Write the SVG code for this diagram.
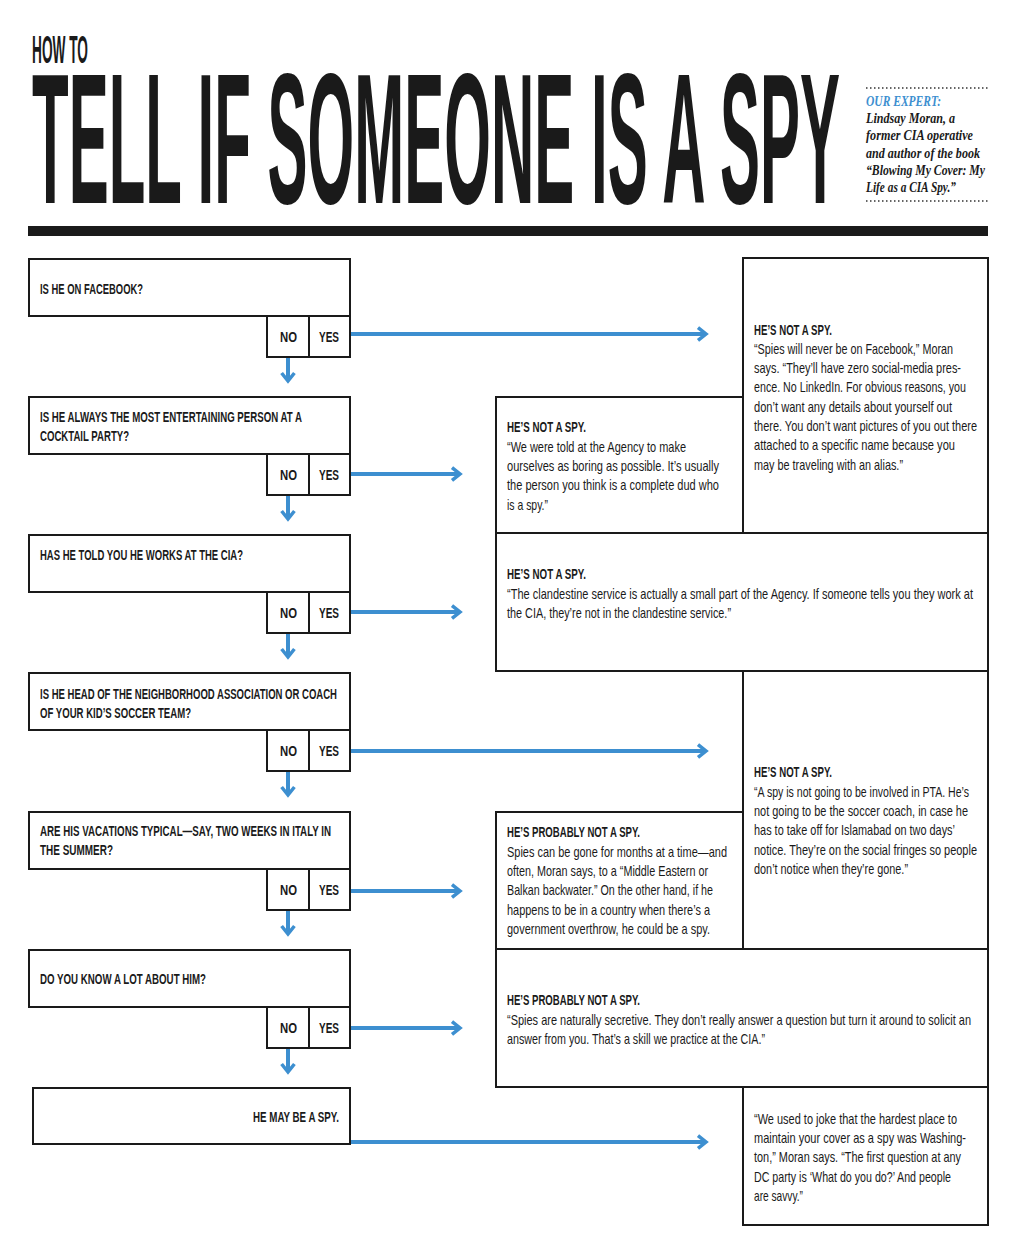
<svg xmlns="http://www.w3.org/2000/svg" width="1024" height="1254" viewBox="0 0 1024 1254">
<defs>
<style>
.bx{fill:#fff;stroke:#1a1a1a;stroke-width:2}
.q{font-family:"Liberation Sans",Arial,sans-serif;font-weight:bold;font-size:14px;fill:#1a1a1a}
.b{font-family:"Liberation Sans",Arial,sans-serif;font-size:15px;fill:#1a1a1a}
.h{font-weight:bold}
.e{font-family:"Liberation Serif","Times New Roman",serif;font-style:italic;font-weight:bold;font-size:14px;fill:#1a1a1a}
.ln{stroke:#3d8fd0;stroke-width:4;fill:none}
.dot{stroke:#333;stroke-width:1.5;stroke-dasharray:1.5 2.5}
</style>
<marker id="ar" viewBox="0 0 10 10" refX="6" refY="5" markerWidth="4" markerHeight="4" orient="auto" markerUnits="strokeWidth">
<path d="M1,1 L6,5 L1,9" fill="none" stroke="#3d8fd0" stroke-width="2.2"/>
</marker>
</defs>
<rect width="1024" height="1254" fill="#fff"/>
<g id="header">
<text x="32" y="63" font-family="Liberation Sans,Arial,sans-serif" font-weight="bold" font-size="38" fill="#1a1a1a" textLength="56" lengthAdjust="spacingAndGlyphs">HOW TO</text>
<text x="32" y="203" font-family="Liberation Sans,Arial,sans-serif" font-weight="bold" font-size="186" fill="#1a1a1a" textLength="808" lengthAdjust="spacingAndGlyphs">TELL IF SOMEONE IS A SPY</text>
<rect x="28" y="226" width="960" height="10" fill="#1a1a1a"/>
</g>
<g id="expert">
<line class="dot" x1="866" y1="88" x2="988" y2="88"/>
<text class="e" x="866" y="106" fill="#3d8fd0" style="fill:#3d8fd0" textLength="75" lengthAdjust="spacingAndGlyphs">OUR EXPERT:</text>
<text class="e" x="866" y="123" textLength="89" lengthAdjust="spacingAndGlyphs">Lindsay Moran, a</text>
<text class="e" x="866" y="140" textLength="107" lengthAdjust="spacingAndGlyphs">former CIA operative</text>
<text class="e" x="866" y="158" textLength="114" lengthAdjust="spacingAndGlyphs">and author of the book</text>
<text class="e" x="866" y="175" textLength="119" lengthAdjust="spacingAndGlyphs">“Blowing My Cover: My</text>
<text class="e" x="866" y="192" textLength="90" lengthAdjust="spacingAndGlyphs">Life as a CIA Spy.”</text>
<line class="dot" x1="866" y1="201" x2="988" y2="201"/>
</g>
<g id="connectors">
<line class="ln" x1="350" y1="334" x2="706" y2="334" marker-end="url(#ar)"/>
<line class="ln" x1="350" y1="474" x2="460" y2="474" marker-end="url(#ar)"/>
<line class="ln" x1="350" y1="612" x2="460" y2="612" marker-end="url(#ar)"/>
<line class="ln" x1="350" y1="751" x2="706" y2="751" marker-end="url(#ar)"/>
<line class="ln" x1="350" y1="891" x2="460" y2="891" marker-end="url(#ar)"/>
<line class="ln" x1="350" y1="1028" x2="460" y2="1028" marker-end="url(#ar)"/>
<line class="ln" x1="350" y1="1142" x2="706" y2="1142" marker-end="url(#ar)"/>
<line class="ln" x1="288" y1="357" x2="288" y2="381" marker-end="url(#ar)"/>
<line class="ln" x1="288" y1="495" x2="288" y2="519" marker-end="url(#ar)"/>
<line class="ln" x1="288" y1="633" x2="288" y2="657" marker-end="url(#ar)"/>
<line class="ln" x1="288" y1="771" x2="288" y2="795" marker-end="url(#ar)"/>
<line class="ln" x1="288" y1="910" x2="288" y2="934" marker-end="url(#ar)"/>
<line class="ln" x1="288" y1="1048" x2="288" y2="1072" marker-end="url(#ar)"/>
</g>
<g id="q1">
<rect class="bx" x="29" y="259" width="321" height="57"/>
<text class="q" x="40" y="294" textLength="103" lengthAdjust="spacingAndGlyphs">IS HE ON FACEBOOK?</text>
<rect class="bx" x="267" y="316" width="42" height="41"/><rect class="bx" x="309" y="316" width="41" height="41"/>
<text class="q" x="280" y="342" textLength="17" lengthAdjust="spacingAndGlyphs">NO</text><text class="q" x="319" y="342" textLength="20" lengthAdjust="spacingAndGlyphs">YES</text>
</g>
<g id="q2">
<rect class="bx" x="29" y="397" width="321" height="57"/>
<text class="q" x="40" y="422" textLength="262" lengthAdjust="spacingAndGlyphs">IS HE ALWAYS THE MOST ENTERTAINING PERSON AT A</text>
<text class="q" x="40" y="441" textLength="89" lengthAdjust="spacingAndGlyphs">COCKTAIL PARTY?</text>
<rect class="bx" x="267" y="454" width="42" height="41"/><rect class="bx" x="309" y="454" width="41" height="41"/>
<text class="q" x="280" y="480" textLength="17" lengthAdjust="spacingAndGlyphs">NO</text><text class="q" x="319" y="480" textLength="20" lengthAdjust="spacingAndGlyphs">YES</text>
</g>
<g id="q3">
<rect class="bx" x="29" y="535" width="321" height="57"/>
<text class="q" x="40" y="560" textLength="203" lengthAdjust="spacingAndGlyphs">HAS HE TOLD YOU HE WORKS AT THE CIA?</text>
<rect class="bx" x="267" y="592" width="42" height="41"/><rect class="bx" x="309" y="592" width="41" height="41"/>
<text class="q" x="280" y="618" textLength="17" lengthAdjust="spacingAndGlyphs">NO</text><text class="q" x="319" y="618" textLength="20" lengthAdjust="spacingAndGlyphs">YES</text>
</g>
<g id="q4">
<rect class="bx" x="29" y="673" width="321" height="57"/>
<text class="q" x="40" y="699" textLength="297" lengthAdjust="spacingAndGlyphs">IS HE HEAD OF THE NEIGHBORHOOD ASSOCIATION OR COACH</text>
<text class="q" x="40" y="718" textLength="151" lengthAdjust="spacingAndGlyphs">OF YOUR KID’S SOCCER TEAM?</text>
<rect class="bx" x="267" y="730" width="42" height="41"/><rect class="bx" x="309" y="730" width="41" height="41"/>
<text class="q" x="280" y="756" textLength="17" lengthAdjust="spacingAndGlyphs">NO</text><text class="q" x="319" y="756" textLength="20" lengthAdjust="spacingAndGlyphs">YES</text>
</g>
<g id="q5">
<rect class="bx" x="29" y="812" width="321" height="57"/>
<text class="q" x="40" y="836" textLength="291" lengthAdjust="spacingAndGlyphs">ARE HIS VACATIONS TYPICAL—SAY, TWO WEEKS IN ITALY IN</text>
<text class="q" x="40" y="855" textLength="73" lengthAdjust="spacingAndGlyphs">THE SUMMER?</text>
<rect class="bx" x="267" y="869" width="42" height="41"/><rect class="bx" x="309" y="869" width="41" height="41"/>
<text class="q" x="280" y="895" textLength="17" lengthAdjust="spacingAndGlyphs">NO</text><text class="q" x="319" y="895" textLength="20" lengthAdjust="spacingAndGlyphs">YES</text>
</g>
<g id="q6">
<rect class="bx" x="29" y="950" width="321" height="57"/>
<text class="q" x="40" y="984" textLength="166" lengthAdjust="spacingAndGlyphs">DO YOU KNOW A LOT ABOUT HIM?</text>
<rect class="bx" x="267" y="1007" width="42" height="41"/><rect class="bx" x="309" y="1007" width="41" height="41"/>
<text class="q" x="280" y="1033" textLength="17" lengthAdjust="spacingAndGlyphs">NO</text><text class="q" x="319" y="1033" textLength="20" lengthAdjust="spacingAndGlyphs">YES</text>
</g>
<g id="end">
<rect class="bx" x="33" y="1088" width="317" height="56"/>
<text class="q" x="253" y="1122" textLength="86" lengthAdjust="spacingAndGlyphs">HE MAY BE A SPY.</text>
</g>
<g id="a1">
<rect class="bx" x="743" y="258" width="245" height="275"/>
<text class="b h" x="754" y="335" textLength="78" lengthAdjust="spacingAndGlyphs">HE’S NOT A SPY.</text>
<text class="b" x="754" y="354" textLength="199" lengthAdjust="spacingAndGlyphs">“Spies will never be on Facebook,” Moran</text>
<text class="b" x="754" y="373" textLength="207" lengthAdjust="spacingAndGlyphs">says. “They’ll have zero social-media pres-</text>
<text class="b" x="754" y="392" textLength="212" lengthAdjust="spacingAndGlyphs">ence. No LinkedIn. For obvious reasons, you</text>
<text class="b" x="754" y="412" textLength="198" lengthAdjust="spacingAndGlyphs">don’t want any details about yourself out</text>
<text class="b" x="754" y="431" textLength="223" lengthAdjust="spacingAndGlyphs">there. You don’t want pictures of you out there</text>
<text class="b" x="754" y="450" textLength="201" lengthAdjust="spacingAndGlyphs">attached to a specific name because you</text>
<text class="b" x="754" y="470" textLength="149" lengthAdjust="spacingAndGlyphs">may be traveling with an alias.”</text>
</g>
<g id="a2">
<rect class="bx" x="496" y="397" width="247" height="136"/>
<text class="b h" x="507" y="432" textLength="79" lengthAdjust="spacingAndGlyphs">HE’S NOT A SPY.</text>
<text class="b" x="507" y="452" textLength="179" lengthAdjust="spacingAndGlyphs">“We were told at the Agency to make</text>
<text class="b" x="507" y="471" textLength="212" lengthAdjust="spacingAndGlyphs">ourselves as boring as possible. It’s usually</text>
<text class="b" x="507" y="490" textLength="212" lengthAdjust="spacingAndGlyphs">the person you think is a complete dud who</text>
<text class="b" x="507" y="510" textLength="41" lengthAdjust="spacingAndGlyphs">is a spy.”</text>
</g>
<g id="a3">
<rect class="bx" x="496" y="533" width="492" height="138"/>
<text class="b h" x="507" y="579" textLength="79" lengthAdjust="spacingAndGlyphs">HE’S NOT A SPY.</text>
<text class="b" x="507" y="599" textLength="466" lengthAdjust="spacingAndGlyphs">“The clandestine service is actually a small part of the Agency. If someone tells you they work at</text>
<text class="b" x="507" y="618" textLength="224" lengthAdjust="spacingAndGlyphs">the CIA, they’re not in the clandestine service.”</text>
</g>
<g id="a4">
<rect class="bx" x="743" y="671" width="245" height="278"/>
<text class="b h" x="754" y="777" textLength="78" lengthAdjust="spacingAndGlyphs">HE’S NOT A SPY.</text>
<text class="b" x="754" y="797" textLength="215" lengthAdjust="spacingAndGlyphs">“A spy is not going to be involved in PTA. He’s</text>
<text class="b" x="754" y="816" textLength="214" lengthAdjust="spacingAndGlyphs">not going to be the soccer coach, in case he</text>
<text class="b" x="754" y="835" textLength="201" lengthAdjust="spacingAndGlyphs">has to take off for Islamabad on two days’</text>
<text class="b" x="754" y="855" textLength="223" lengthAdjust="spacingAndGlyphs">notice. They’re on the social fringes so people</text>
<text class="b" x="754" y="874" textLength="154" lengthAdjust="spacingAndGlyphs">don’t notice when they’re gone.”</text>
</g>
<g id="a5">
<rect class="bx" x="496" y="812" width="247" height="137"/>
<text class="b h" x="507" y="837" textLength="133" lengthAdjust="spacingAndGlyphs">HE’S PROBABLY NOT A SPY.</text>
<text class="b" x="507" y="857" textLength="220" lengthAdjust="spacingAndGlyphs">Spies can be gone for months at a time—and</text>
<text class="b" x="507" y="876" textLength="201" lengthAdjust="spacingAndGlyphs">often, Moran says, to a “Middle Eastern or</text>
<text class="b" x="507" y="895" textLength="206" lengthAdjust="spacingAndGlyphs">Balkan backwater.” On the other hand, if he</text>
<text class="b" x="507" y="915" textLength="203" lengthAdjust="spacingAndGlyphs">happens to be in a country when there’s a</text>
<text class="b" x="507" y="934" textLength="203" lengthAdjust="spacingAndGlyphs">government overthrow, he could be a spy.</text>
</g>
<g id="a6">
<rect class="bx" x="496" y="949" width="492" height="138"/>
<text class="b h" x="507" y="1005" textLength="133" lengthAdjust="spacingAndGlyphs">HE’S PROBABLY NOT A SPY.</text>
<text class="b" x="507" y="1025" textLength="464" lengthAdjust="spacingAndGlyphs">“Spies are naturally secretive. They don’t really answer a question but turn it around to solicit an</text>
<text class="b" x="507" y="1044" textLength="258" lengthAdjust="spacingAndGlyphs">answer from you. That’s a skill we practice at the CIA.”</text>
</g>
<g id="a7">
<rect class="bx" x="743" y="1087" width="245" height="138"/>
<text class="b" x="754" y="1124" textLength="203" lengthAdjust="spacingAndGlyphs">“We used to joke that the hardest place to</text>
<text class="b" x="754" y="1143" textLength="212" lengthAdjust="spacingAndGlyphs">maintain your cover as a spy was Washing-</text>
<text class="b" x="754" y="1162" textLength="207" lengthAdjust="spacingAndGlyphs">ton,” Moran says. “The first question at any</text>
<text class="b" x="754" y="1182" textLength="197" lengthAdjust="spacingAndGlyphs">DC party is ‘What do you do?’ And people</text>
<text class="b" x="754" y="1201" textLength="49" lengthAdjust="spacingAndGlyphs">are savvy.”</text>
</g>
</svg>
